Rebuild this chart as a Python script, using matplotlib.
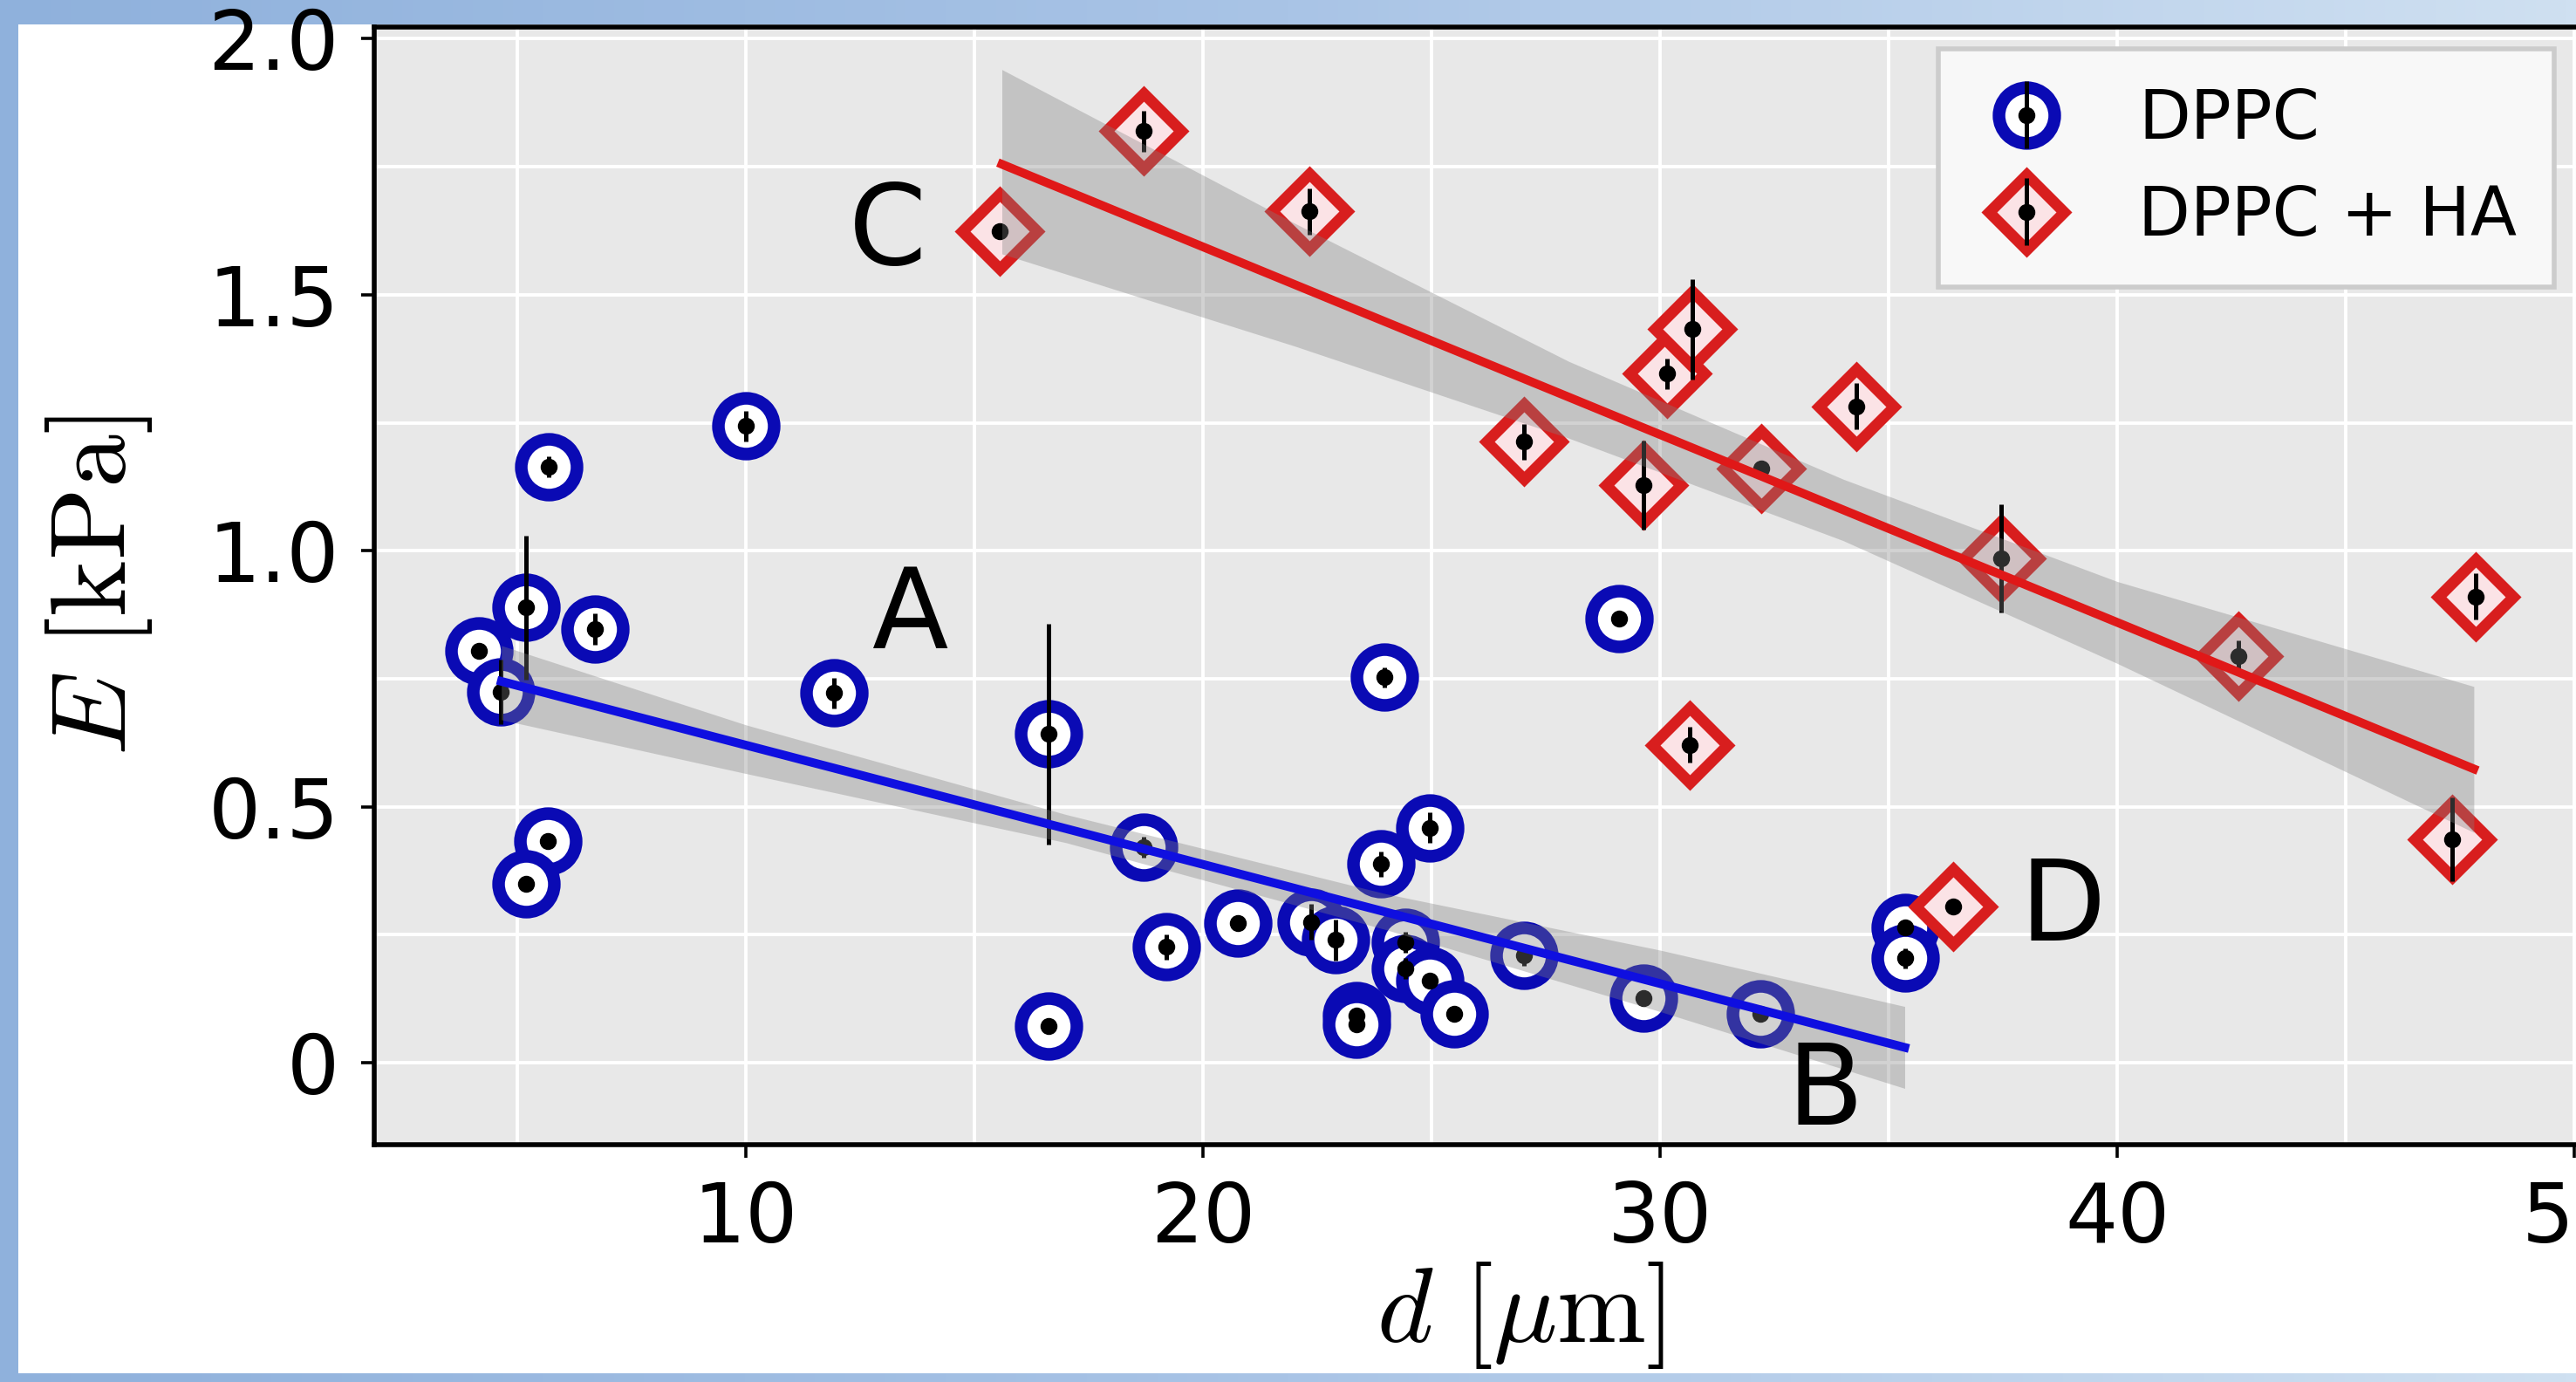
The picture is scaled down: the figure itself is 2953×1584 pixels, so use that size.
import numpy as np
import matplotlib
matplotlib.use("Agg")
import matplotlib.pyplot as plt
from matplotlib.patches import Rectangle
from matplotlib.legend_handler import HandlerTuple

# DPPC (blue circles)
dppc_d = [4.16, 5.19, 4.64, 5.68, 6.70, 5.67, 5.19, 10.0, 11.92, 16.62, 16.62,
          18.71, 19.2, 20.76, 22.36, 22.9, 23.36, 23.36, 23.96, 23.9, 24.96,
          24.43, 24.43, 24.96, 25.5, 27.03, 29.1, 29.63, 32.2, 35.36, 35.36]
dppc_E = [0.805, 0.889, 0.725, 1.164, 0.847, 0.433, 0.349, 1.244, 0.722, 0.642, 0.071,
          0.421, 0.226, 0.272, 0.275, 0.24, 0.093, 0.075, 0.753, 0.388, 0.459,
          0.235, 0.184, 0.16, 0.096, 0.209, 0.868, 0.127, 0.096, 0.264, 0.204]
dppc_err = [0.01, 0.14, 0.063, 0.02, 0.03, 0.01, 0.01, 0.03, 0.03, 0.215, 0.01,
            0.02, 0.025, 0.01, 0.035, 0.04, 0.01, 0.01, 0.02, 0.025, 0.03,
            0.02, 0.02, 0.01, 0.01, 0.02, 0.01, 0.01, 0.01, 0.01, 0.02]

# DPPC + HA (red diamonds)
ha_d = [15.55, 18.7, 22.33, 27.03, 29.63, 30.15, 30.7, 32.22, 34.29, 37.45,
        30.64, 36.4, 42.64, 47.84, 47.33]
ha_E = [1.624, 1.82, 1.663, 1.213, 1.128, 1.346, 1.433, 1.161, 1.282, 0.985,
        0.621, 0.306, 0.795, 0.911, 0.436]
ha_err = [0.01, 0.04, 0.045, 0.035, 0.087, 0.03, 0.098, 0.01, 0.045, 0.105,
          0.035, 0.01, 0.03, 0.045, 0.082]

# linear fits and confidence bands
blue_fit_x = [4.65, 35.35]
blue_fit_y = [0.745, 0.03]
blue_band_x = [4.65, 10, 17, 24, 30, 35.35]
blue_band_lo = [0.67, 0.565, 0.43, 0.26, 0.10, -0.05]
blue_band_hi = [0.815, 0.66, 0.485, 0.33, 0.22, 0.11]

red_fit_x = [15.6, 47.8]
red_fit_y = [1.755, 0.574]
red_band_x = [15.6, 22, 28, 34, 40, 47.8]
red_band_lo = [1.58, 1.40, 1.22, 1.02, 0.78, 0.45]
red_band_hi = [1.94, 1.64, 1.37, 1.14, 0.94, 0.735]

# panel letters
letters = ["A", "B", "C", "D"]
letter_x = [13.6, 33.6, 13.1, 38.8]
letter_y = [0.87, -0.06, 1.62, 0.30]

x_ticks = [10, 20, 30, 40, 50]
y_ticks = [0, 0.5, 1.0, 1.5, 2.0]
y_ticklabels = ["0", "0.5", "1.0", "1.5", "2.0"]

plt.rcParams['mathtext.fontset'] = 'cm'
plt.rcParams['font.family'] = ['DejaVu Sans']

W, H = 2953, 1584
fig = plt.figure(figsize=(W / 200, H / 200), dpi=200)

# light blue frame around the picture
bg = fig.add_axes([0, 0, 1, 1], zorder=-10)
grad = np.linspace(0, 1, 256)[None, :]
bg.imshow(grad, extent=[0, 1, 0, 1], aspect='auto',
          cmap=matplotlib.colors.LinearSegmentedColormap.from_list(
              'frame', ['#8fb1dc', '#a9c4e6', '#cfe0f1']))
bg.add_patch(Rectangle((21 / W, 10 / H), 1, 1 - 10 / H - 28 / H,
                       facecolor='white', edgecolor='none'))
bg.set_xlim(0, 1)
bg.set_ylim(0, 1)
bg.axis('off')

ax = fig.add_axes([429 / W, 272 / H, 2627 / W, 1281 / H])
ax.set_facecolor('#e8e8e8')
ax.set_xlim(1.87, 52)
ax.set_ylim(-0.16, 2.023)

ax.set_xticks(x_ticks)
ax.set_xticks([5, 15, 25, 35, 45], minor=True)
ax.set_yticks(y_ticks)
ax.set_yticklabels(y_ticklabels)
ax.set_yticks([0.25, 0.75, 1.25, 1.75], minor=True)
ax.grid(True, which='both', color='white', linewidth=1.4)
ax.set_axisbelow(True)
ax.tick_params(which='major', length=5.5, width=1.3, labelsize=34, pad=9)
ax.tick_params(which='minor', length=0)
for s in ax.spines.values():
    s.set_linewidth(2)
    s.set_color('black')

blue = '#0a0ab4'
red = '#d81e1e'

# rings / diamonds with the black value dot and error bar on top
rings_b, = ax.plot(dppc_d, dppc_E, 'o', ls='none', ms=23, mew=5.2,
                   mfc='white', mec=blue, zorder=2)
dots_b = ax.errorbar(dppc_d, dppc_E, yerr=dppc_err, fmt='o', color='black',
                     ms=6, elinewidth=1.8, capsize=0, zorder=3)
rings_r, = ax.plot(ha_d, ha_E, 'D', ls='none', ms=22, mew=4.6,
                   mfc='#fbe3e6', mec=red, zorder=2)
dots_r = ax.errorbar(ha_d, ha_E, yerr=ha_err, fmt='o', color='black',
                     ms=6, elinewidth=1.8, capsize=0, zorder=3)

# fits with grey confidence bands
ax.fill_between(blue_band_x, blue_band_lo, blue_band_hi, color='#808080',
                alpha=0.35, lw=0, zorder=4)
ax.fill_between(red_band_x, red_band_lo, red_band_hi, color='#808080',
                alpha=0.35, lw=0, zorder=4)
ax.plot(blue_fit_x, blue_fit_y, color='#0f0fe0', lw=3.6, zorder=5)
ax.plot(red_fit_x, red_fit_y, color='#e01818', lw=3.6, zorder=5)

for t, tx, ty in zip(letters, letter_x, letter_y):
    ax.text(tx, ty, t, fontsize=46, ha='center', va='center', zorder=6)

ax.set_xlabel(r'$d\ [\mu\mathrm{m}]$', fontsize=44, labelpad=0)
ax.set_ylabel(r'$E\ [\mathrm{kPa}]$', fontsize=44, labelpad=22)

leg = ax.legend([(rings_b, dots_b), (rings_r, dots_r)], ['DPPC', 'DPPC + HA'],
                handler_map={tuple: HandlerTuple(ndivide=1)},
                loc='upper right', bbox_to_anchor=(2928 / W, 1 - 56 / H),
                bbox_transform=fig.transFigure, borderaxespad=0,
                fontsize=28, frameon=True, fancybox=False, handlelength=1.5,
                handletextpad=0.9, borderpad=0.55, labelspacing=0.45)
leg.get_frame().set_facecolor('#f8f8f8')
leg.get_frame().set_edgecolor('#cccccc')
leg.get_frame().set_linewidth(2)
leg.get_frame().set_alpha(1)

fig.savefig('out.png', dpi=200)
